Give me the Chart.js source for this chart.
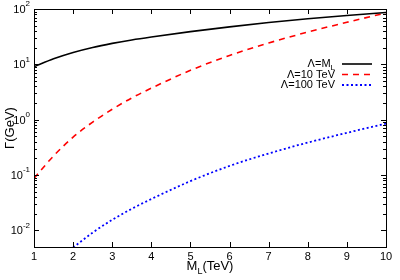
<!DOCTYPE html>
<html>
<head>
<meta charset="utf-8">
<script src="https://cdn.jsdelivr.net/npm/chart.js@4"></script>
<style>
  html, body { margin: 0; padding: 0; background: #fff; }
  #wrap { width: 400px; height: 280px; }
</style>
</head>
<body>
<div id="wrap"><canvas id="chart" width="400" height="280"></canvas></div>
<script>
// M_L in TeV, width Gamma in GeV
const mL = [1, 1.5, 2, 2.5, 3, 3.5, 4, 5, 6, 7, 8, 9, 10];
const gammaLambdaML = [9.0, 12.6, 16.4, 20.2, 23.9, 27.6, 31.2, 39, 47.5, 57, 66.5, 76.5, 86.5];
const gammaLambda10 = [0.087, 0.221, 0.483, 0.904, 1.54, 2.47, 3.71, 7.8, 14.5, 24.3, 38.3, 57.5, 85];
const gammaLambda100 = [null, null, 0.0049, 0.0091, 0.0155, 0.0245, 0.0368, 0.0775, 0.146, 0.245, 0.386, 0.578, 0.85];

const xTicks = [1, 2, 3, 4, 5, 6, 7, 8, 9, 10];
const yDecades = [-2, -1, 0, 1, 2];

const FONT = '"Liberation Sans", Arial, sans-serif';

const series = [
  { label: 'Λ=M', sub: 'L', data: gammaLambdaML, color: '#000000', dash: [], width: 1.6 },
  { label: 'Λ=10 TeV', sub: '', data: gammaLambda10, color: '#ff0000', dash: [6, 5], width: 1.6 },
  { label: 'Λ=100 TeV', sub: '', data: gammaLambda100, color: '#0000ff', dash: [2, 2.5], width: 1.8 },
];

function toPoints(values) {
  return mL.map((x, i) => ({ x, y: values[i] }));
}

const framePlugin = {
  id: 'frame',
  afterDraw(chart) {
    const { ctx, chartArea: a, scales } = chart;
    const xs = scales.x, ys = scales.y;
    ctx.save();
    ctx.strokeStyle = '#000';
    ctx.lineWidth = 1;
    ctx.setLineDash([]);
    ctx.strokeRect(Math.round(a.left) + 0.5, Math.round(a.top) + 0.5,
      Math.round(a.right - a.left), Math.round(a.bottom - a.top));

    // x ticks, inward on bottom and top
    ctx.beginPath();
    xTicks.forEach((v) => {
      const px = Math.round(xs.getPixelForValue(v)) + 0.5;
      ctx.moveTo(px, a.bottom); ctx.lineTo(px, a.bottom - 5);
      ctx.moveTo(px, a.top); ctx.lineTo(px, a.top + 5);
    });
    // y ticks, major and minor, left and right
    yDecades.forEach((d) => {
      for (let m = 1; m <= 9; m++) {
        const v = m * Math.pow(10, d);
        if (v < ys.min || v > ys.max) continue;
        const py = Math.round(ys.getPixelForValue(v)) + 0.5;
        const len = m === 1 ? 5 : 3;
        ctx.moveTo(a.left, py); ctx.lineTo(a.left + len, py);
        ctx.moveTo(a.right, py); ctx.lineTo(a.right - len, py);
      }
    });
    ctx.stroke();

    // y tick labels 10^n
    ctx.fillStyle = '#000';
    ctx.textBaseline = 'middle';
    yDecades.forEach((d) => {
      const py = ys.getPixelForValue(Math.pow(10, d));
      const exp = d < 0 ? '-' + Math.abs(d) : String(d);
      ctx.font = `8px ${FONT}`;
      ctx.textAlign = 'right';
      const ew = ctx.measureText(exp).width;
      ctx.fillText(exp, a.left - 4, py - 5);
      ctx.font = `11px ${FONT}`;
      ctx.fillText('10', a.left - 4 - ew, py + 1);
    });

    // x axis title M_L(TeV)
    const cx = (a.left + a.right) / 2;
    const by = 270;
    ctx.textBaseline = 'alphabetic';
    ctx.textAlign = 'left';
    ctx.font = `13px ${FONT}`;
    const wM = ctx.measureText('M').width;
    const wT = ctx.measureText('(TeV)').width;
    ctx.font = `9px ${FONT}`;
    const wL = ctx.measureText('L').width;
    const sx = cx - (wM + wL + wT) / 2;
    ctx.font = `13px ${FONT}`;
    ctx.fillText('M', sx, by);
    ctx.font = `9px ${FONT}`;
    ctx.fillText('L', sx + wM, by + 4);
    ctx.font = `13px ${FONT}`;
    ctx.fillText('(TeV)', sx + wM + wL, by);

    // y axis title
    ctx.save();
    ctx.translate(14, (a.top + a.bottom) / 2);
    ctx.rotate(-Math.PI / 2);
    ctx.textAlign = 'center';
    ctx.font = `13px ${FONT}`;
    ctx.fillText('Γ(GeV)', 0, 0);
    ctx.restore();

    // legend
    const rows = [64, 74.5, 85];
    series.forEach((s, i) => {
      const y = rows[i];
      ctx.textBaseline = 'middle';
      ctx.textAlign = 'right';
      let right = 335;
      if (s.sub) {
        ctx.font = `8px ${FONT}`;
        const sw = ctx.measureText(s.sub).width;
        ctx.fillText(s.sub, right, y + 4);
        right -= sw;
      }
      ctx.font = `11px ${FONT}`;
      ctx.fillText(s.label, right, y);
      ctx.beginPath();
      ctx.strokeStyle = s.color;
      ctx.lineWidth = s.width;
      ctx.setLineDash(s.dash);
      ctx.moveTo(342, y);
      ctx.lineTo(372, y);
      ctx.stroke();
    });
    ctx.restore();
  },
};

new Chart(document.getElementById('chart'), {
  type: 'line',
  data: {
    datasets: series.map((s) => ({
      label: s.label,
      data: toPoints(s.data),
      borderColor: s.color,
      borderDash: s.dash,
      borderWidth: s.width,
      pointRadius: 0,
      fill: false,
      spanGaps: false,
      cubicInterpolationMode: 'monotone',
    })),
  },
  options: {
    responsive: false,
    animation: false,
    layout: { padding: { top: 9, right: 14, left: 0, bottom: 0 } },
    plugins: { legend: { display: false }, tooltip: { enabled: false } },
    scales: {
      x: {
        type: 'linear',
        min: 1,
        max: 10,
        grid: { display: false, drawTicks: false },
        border: { display: false },
        ticks: {
          stepSize: 1,
          maxRotation: 0,
          padding: 3,
          color: '#000',
          font: { family: FONT, size: 11 },
        },
        afterFit: (s) => { s.height = 33; },
      },
      y: {
        type: 'logarithmic',
        min: 0.005,
        max: 100,
        grid: { display: false, drawTicks: false },
        border: { display: false },
        ticks: { display: false },
        afterFit: (s) => { s.width = 34; },
      },
    },
  },
  plugins: [framePlugin],
});
</script>
</body>
</html>
